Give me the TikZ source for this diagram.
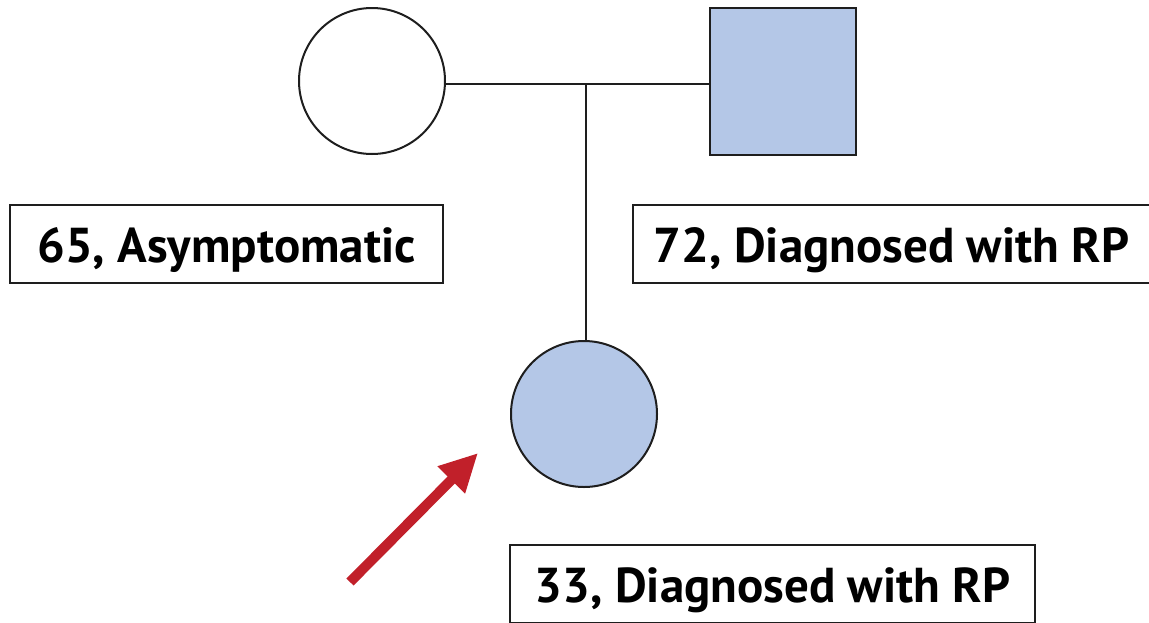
\documentclass[tikz,border=0pt]{standalone}
\usepackage{fontspec}
\setmainfont{PT Sans}
\usetikzlibrary{arrows.meta}
\definecolor{affected}{RGB}{180,199,231}
\definecolor{pointer}{RGB}{193,32,42}
\definecolor{edge}{RGB}{30,30,30}
\begin{document}
\begin{tikzpicture}[x=1pt,y=-1pt,
  person/.style={draw=edge,line width=2pt,inner sep=0pt},
  female/.style={person,circle,minimum size=146pt},
  male/.style={person,rectangle,minimum width=146pt,minimum height=147pt},
  labelbox/.style={draw=edge,line width=1.8pt,rectangle,minimum height=78pt,inner sep=0pt,
    text height=46pt,text depth=10pt,
    font=\fontsize{49}{52}\selectfont\bfseries},
  link/.style={draw=edge,line width=2pt}]
\useasboundingbox (0,0) rectangle (1149,622);
\clip (0,0) rectangle (1149,622);
\node[female] (mother) at (372,81) {};
\node[male,fill=affected] (father) at (783,81) {};
\node[female,fill=affected] (child) at (584,414) {};
\coordinate (mid) at (586,84);
\draw[link] (mother.east |- mid) -- (father.west |- mid);
\draw[link] (mid) -- (child.north -| mid);
\node[labelbox,minimum width=433pt] (lm) at (226.5,244) {65, Asymptomatic};
\node[labelbox,minimum width=517pt] (lf) at (891.5,244) {72, Diagnosed with RP};
\node[labelbox,minimum width=525pt] (lc) at (772.5,584) {33, Diagnosed with RP};
\coordinate (arrowtail) at (350,582);
\coordinate (arrowtip) at (478,453);
\draw[pointer,line width=10pt,-{Triangle[length=38pt,width=36pt]}] (arrowtail) -- (arrowtip);
\end{tikzpicture}
\end{document}
